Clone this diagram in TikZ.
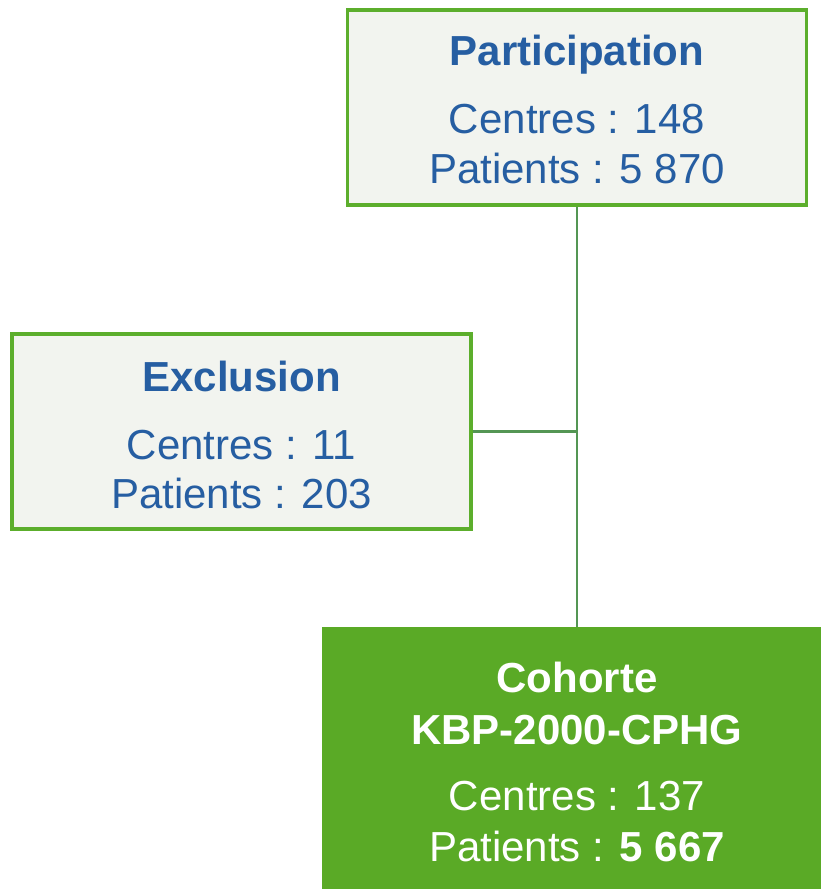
\documentclass[tikz,border=0pt]{standalone}
\usepackage{fontspec}
\setmainfont{Liberation Sans}
\usepackage{xcolor}
\usetikzlibrary{positioning}
\definecolor{boxgreen}{RGB}{92,174,44}
\definecolor{cohgreen}{RGB}{90,170,38}
\definecolor{boxfill}{RGB}{242,244,239}
\definecolor{textblue}{RGB}{38,94,162}
\definecolor{linkgreen}{RGB}{84,150,84}
\tikzset{>=stealth}

\begin{document}
\begin{tikzpicture}
	[x=0.75pt,y=-0.75pt,
	stage/.style={rectangle,draw=boxgreen,fill=boxfill,line width=2.6pt,minimum width=344pt,minimum height=146.5pt},
	result/.style={rectangle,fill=cohgreen,minimum width=382.5pt,minimum height=220pt},
	line/.style={anchor=base,inner sep=0pt,font=\fontsize{31.5pt}{37pt}\selectfont},
	head/.style={line,font=\fontsize{31.5pt}{37pt}\selectfont\bfseries},
	link/.style={draw=linkgreen,line width=1.6pt}]
	\useasboundingbox (0,0) rectangle (821,889);
	\clip (0,0) rectangle (821,889);
	% boxes
	\node [stage] (part) at (577,107.5) {};
	\node [stage] (excl) at (241.5,431.5) {};
	\node [result] (coh) at (577,773.5) {};
	% connectors
	\coordinate (join) at (excl.east -| part.south);
	\draw [link] (part.south) -- (coh.north);
	\draw [link] (excl.east) -- (join);
	% texts
	\node [head,text=textblue] (part-t) at (577,65) {Participation};
	\node [line,text=textblue] (part-c) at (577,133) {Centres : 148};
	\node [line,text=textblue] (part-p) at (577,183) {Patients : 5 870};
	\node [head,text=textblue] (excl-t) at (241.5,391) {Exclusion};
	\node [line,text=textblue] (excl-c) at (241.5,459) {Centres : 11};
	\node [line,text=textblue] (excl-p) at (241.5,508) {Patients : 203};
	\node [head,text=white] (coh-t) at (577,692) {Cohorte};
	\node [head,text=white] (coh-n) at (577,744) {KBP-2000-CPHG};
	\node [line,text=white] (coh-c) at (577,810) {Centres : 137};
	\node [line,text=white] (coh-p) at (577,861) {Patients : \textbf{5 667}};
\end{tikzpicture}
\end{document}
